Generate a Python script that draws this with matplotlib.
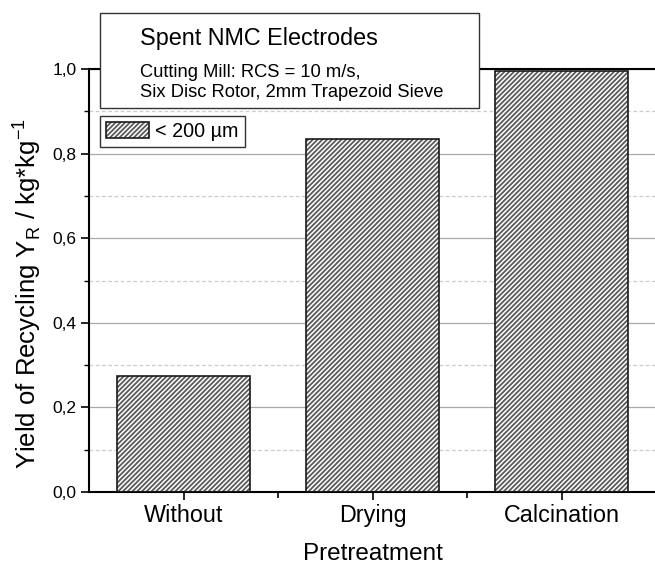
import matplotlib
matplotlib.use('Agg')
import matplotlib.pyplot as plt
from matplotlib.patches import Rectangle, Patch
from matplotlib.legend_handler import HandlerTuple

categories = ['Without', 'Drying', 'Calcination']
yield_values = [0.275, 0.835, 0.995]
series_label = '< 200 µm'
y_ticks = [0.0, 0.2, 0.4, 0.6, 0.8, 1.0]
y_tick_labels = ['0,0', '0,2', '0,4', '0,6', '0,8', '1,0']
y_minor_ticks = [0.1, 0.3, 0.5, 0.7, 0.9]
box_title = 'Spent NMC Electrodes'
box_lines = ['Cutting Mill: RCS = 10 m/s,', 'Six Disc Rotor, 2mm Trapezoid Sieve']
x_label = 'Pretreatment'
y_label = 'Yield of Recycling Y$_\\mathregular{R}$ / kg*kg$^\\mathregular{-1}$'

plt.rcParams['font.family'] = ['Liberation Sans', 'DejaVu Sans']
plt.rcParams['mathtext.fontset'] = 'custom'
plt.rcParams['mathtext.rm'] = 'Liberation Sans'
plt.rcParams['hatch.linewidth'] = 1.3

W, H = 655, 565
fig = plt.figure(figsize=(W / 100, H / 100), dpi=100)
ax = fig.add_axes([89 / W, 1 - 492 / H, 567 / W, (492 - 69) / H])

x = list(range(len(categories)))
hatch_col = '#5a5a5a'
edge_col = '#1a1a1a'
hatch_pat = '///////'
ax.bar(x, yield_values, width=0.7, color='white', edgecolor=hatch_col,
       hatch=hatch_pat, linewidth=0, zorder=2)
ax.bar(x, yield_values, width=0.7, fill=False, edgecolor=edge_col,
       linewidth=1.2, zorder=3)

ax.set_xlim(-0.5, len(categories) - 0.5)
ax.set_ylim(y_ticks[0], y_ticks[-1])

ax.set_xticks(x)
ax.set_xticklabels(categories, fontsize=16.8)
ax.set_xticks([i + 0.5 for i in x[:-1]], minor=True)
ax.set_yticks(y_ticks)
ax.set_yticklabels(y_tick_labels, fontsize=12.5)
ax.set_yticks(y_minor_ticks, minor=True)

ax.tick_params(axis='x', which='major', direction='out', length=5.5, width=1.2, pad=3)
ax.tick_params(axis='x', which='minor', direction='out', length=4, width=1.2)
ax.tick_params(axis='y', which='major', direction='out', length=6, width=1.2, pad=3)
ax.tick_params(axis='y', which='minor', direction='out', length=3.5, width=1.0)

for s in ['left', 'bottom', 'top']:
    ax.spines[s].set_linewidth(1.5)
    ax.spines[s].set_color('black')
ax.spines['right'].set_visible(False)

ax.set_axisbelow(True)
ax.yaxis.grid(True, which='major', color='#a8a8a8', lw=0.9, ls='-')
ax.yaxis.grid(True, which='minor', color='#cccccc', lw=0.9, ls=(0, (3, 2)))

ax.set_xlabel(x_label, fontsize=17.5, labelpad=12)
ax.set_ylabel(y_label, fontsize=18.5)
ax.yaxis.set_label_coords(-0.082, 0.47)

# annotation box
rect = Rectangle((100 / W, 1 - 108 / H), (479 - 100) / W, (108 - 13) / H,
                 transform=fig.transFigure, facecolor='white', edgecolor='#333333',
                 lw=1.0, zorder=5)
fig.add_artist(rect)
fig.text(140 / W, 1 - 45 / H, box_title, fontsize=16.8, va='baseline', zorder=6)
fig.text(140 / W, 1 - 77 / H, box_lines[0], fontsize=13.2, va='baseline', zorder=6)
fig.text(140 / W, 1 - 97 / H, box_lines[1], fontsize=13.2, va='baseline', zorder=6)

h = (Patch(facecolor='white', edgecolor=hatch_col, hatch=hatch_pat, linewidth=0),
     Patch(fill=False, edgecolor=edge_col, linewidth=1.2))
leg = ax.legend([h], [series_label], handler_map={tuple: HandlerTuple(ndivide=1)},
                loc='upper left', bbox_to_anchor=(100 / W, 1 - 116 / H),
                bbox_transform=fig.transFigure, borderaxespad=0, fontsize=14.2,
                frameon=True, fancybox=False, framealpha=1, edgecolor='#333333',
                borderpad=0.3, handlelength=2.2, handleheight=0.9, handletextpad=0.3)
leg.get_frame().set_linewidth(1.0)

fig.savefig('out.png', dpi=100)
